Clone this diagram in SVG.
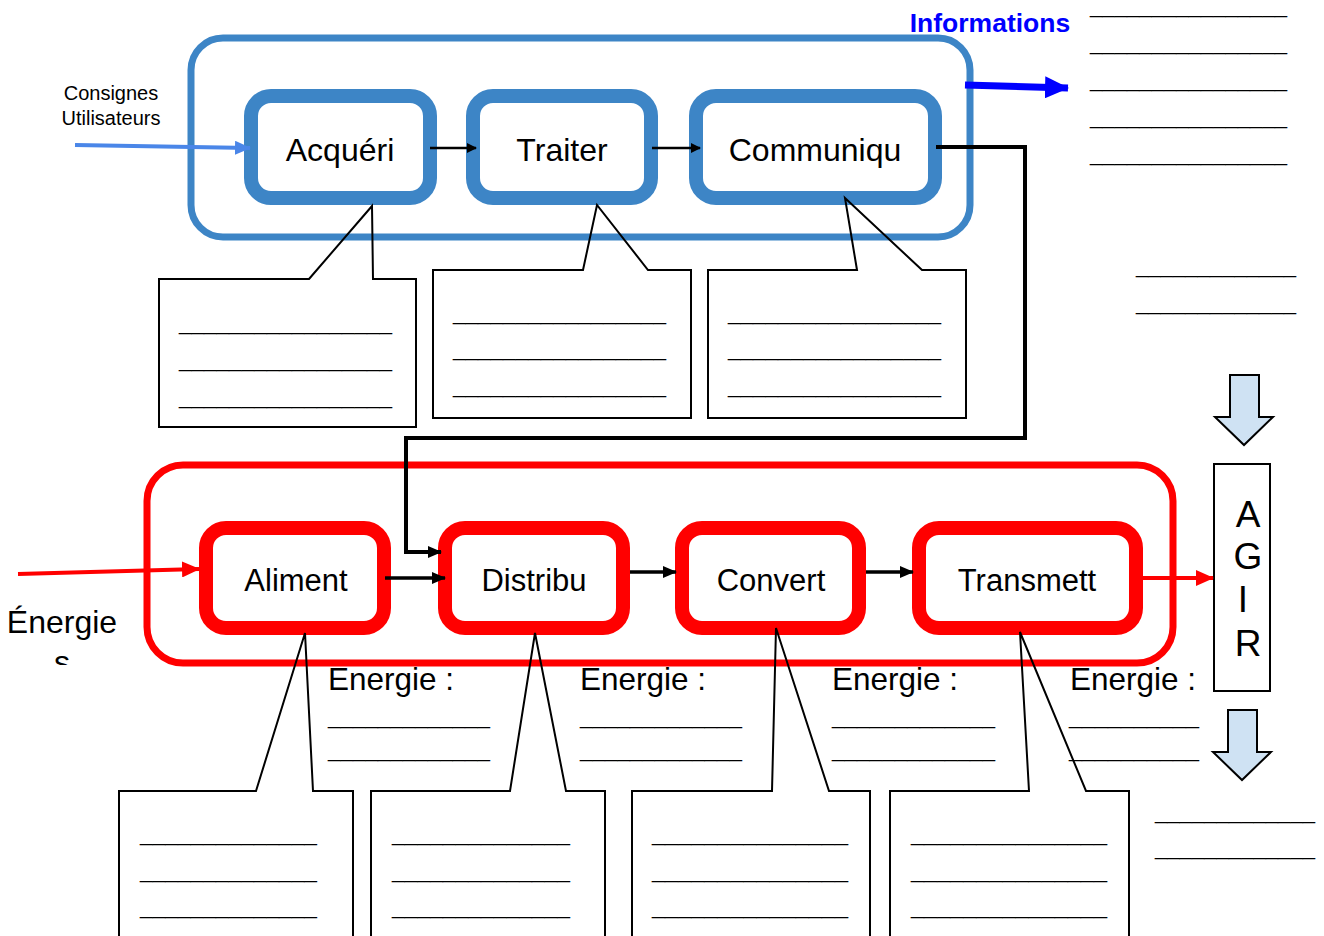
<svg xmlns="http://www.w3.org/2000/svg" width="1324" height="936" viewBox="0 0 1324 936">
<defs>
<marker id="ab" markerWidth="10" markerHeight="10" refX="9" refY="5" orient="auto" markerUnits="userSpaceOnUse"><path d="M0,0 L10,5 L0,10 z" fill="#000"/></marker>
<marker id="abig" markerWidth="14" markerHeight="14" refX="13" refY="7" orient="auto" markerUnits="userSpaceOnUse"><path d="M0,1 L14,7 L0,13 z" fill="#000"/></marker>
<marker id="ar" markerWidth="18" markerHeight="16" refX="17" refY="8" orient="auto" markerUnits="userSpaceOnUse"><path d="M0,0 L18,8 L0,16 z" fill="#ff0000"/></marker>
<marker id="abl" markerWidth="24" markerHeight="22" refX="23" refY="11" orient="auto" markerUnits="userSpaceOnUse"><path d="M0,0 L24,11 L0,22 z" fill="#0000ff"/></marker>
<marker id="alb" markerWidth="16" markerHeight="14" refX="15" refY="7" orient="auto" markerUnits="userSpaceOnUse"><path d="M0,0 L16,7 L0,14 z" fill="#4a86e8"/></marker>
<clipPath id="clipE"><rect x="0" y="590" width="140" height="75"/></clipPath>
</defs>
<style>
.t{font-family:"Liberation Sans",Arial,sans-serif;fill:#000}
.u{font-family:"Liberation Sans",Arial,sans-serif;font-size:16px;fill:#000}
.frameB{fill:none;stroke:#3d85c6;stroke-width:7}
.nodeB{fill:#fff;stroke:#3d85c6;stroke-width:14}
.frameR{fill:none;stroke:#ff0000;stroke-width:7}
.nodeR{fill:#fff;stroke:#ff0000;stroke-width:14}
.call{fill:none;stroke:#000;stroke-width:2}
.conn{fill:none;stroke:#000;stroke-width:2.5}
.darr{fill:#cfe2f3;stroke:#000;stroke-width:2}
</style>
<rect width="1324" height="936" fill="#fff"/>

<g id="frame-info"><rect class="frameB" x="191" y="38" width="779" height="199" rx="32"/></g>
<g id="frame-energy"><rect class="frameR" x="147" y="465" width="1026" height="198" rx="36"/></g>

<g id="acquerir"><rect class="nodeB" x="251" y="96" width="179" height="102" rx="20"/><text class="t" x="340" y="161" font-size="32" text-anchor="middle">Acquéri</text></g>
<g id="traiter"><rect class="nodeB" x="473" y="96" width="178" height="102" rx="20"/><text class="t" x="562" y="161" font-size="32" text-anchor="middle">Traiter</text></g>
<g id="communiquer"><rect class="nodeB" x="696" y="96" width="239" height="102" rx="20"/><text class="t" x="815" y="161" font-size="32" text-anchor="middle">Communiqu</text></g>

<g id="alimenter"><rect class="nodeR" x="206" y="528" width="178" height="100" rx="20"/><text class="t" x="296" y="591" font-size="31" text-anchor="middle">Aliment</text></g>
<g id="distribuer"><rect class="nodeR" x="445" y="528" width="178" height="100" rx="20"/><text class="t" x="534" y="591" font-size="31" text-anchor="middle">Distribu</text></g>
<g id="convertir"><rect class="nodeR" x="682" y="528" width="177" height="100" rx="20"/><text class="t" x="771" y="591" font-size="31" text-anchor="middle">Convert</text></g>
<g id="transmettre"><rect class="nodeR" x="919" y="528" width="217" height="100" rx="20"/><text class="t" x="1027" y="591" font-size="31" text-anchor="middle">Transmett</text></g>

<g id="agir"><rect x="1214" y="464" width="56" height="227" fill="#fff" stroke="#000" stroke-width="2"/>
<text class="t" x="1248" y="527" font-size="37" text-anchor="middle">A</text>
<text class="t" x="1248" y="569" font-size="37" text-anchor="middle">G</text>
<text class="t" x="1243" y="612" font-size="37" text-anchor="middle">I</text>
<text class="t" x="1248" y="656" font-size="37" text-anchor="middle">R</text></g>

<g id="down-arrows">
<path class="darr" d="M1230,375 L1259,375 L1259,417 L1273,417 L1244,445 L1215,417 L1230,417 z"/>
<path class="darr" d="M1228,710 L1257,710 L1257,752 L1271,752 L1242,780 L1213,752 L1228,752 z"/>
</g>

<g id="labels">
<text class="t" x="111" y="100" font-size="20" text-anchor="middle">Consignes</text>
<text class="t" x="111" y="125" font-size="20" text-anchor="middle">Utilisateurs</text>
<text class="t" x="990" y="32" font-size="26.5" font-weight="bold" text-anchor="middle" style="fill:#0000ff">Informations</text>
<g clip-path="url(#clipE)">
<text class="t" x="62" y="633" font-size="32" text-anchor="middle">Énergie</text>
<text class="t" x="62" y="673" font-size="32" text-anchor="middle">s</text>
</g>
<text class="t" x="328" y="690" font-size="31.5">Energie :</text>
<text class="t" x="580" y="690" font-size="31.5">Energie :</text>
<text class="t" x="832" y="690" font-size="31.5">Energie :</text>
<text class="t" x="1070" y="690" font-size="31.5">Energie :</text>
</g>

<g id="blanks">
<text class="u" x="1090" y="14" textLength="197" lengthAdjust="spacingAndGlyphs">________________</text>
<text class="u" x="1090" y="51" textLength="197" lengthAdjust="spacingAndGlyphs">________________</text>
<text class="u" x="1090" y="88" textLength="197" lengthAdjust="spacingAndGlyphs">________________</text>
<text class="u" x="1090" y="125" textLength="197" lengthAdjust="spacingAndGlyphs">________________</text>
<text class="u" x="1090" y="162" textLength="197" lengthAdjust="spacingAndGlyphs">________________</text>
<text class="u" x="1136" y="274" textLength="160" lengthAdjust="spacingAndGlyphs">_____________</text>
<text class="u" x="1136" y="311" textLength="160" lengthAdjust="spacingAndGlyphs">_____________</text>
<text class="u" x="1155" y="820" textLength="160" lengthAdjust="spacingAndGlyphs">_____________</text>
<text class="u" x="1155" y="856" textLength="160" lengthAdjust="spacingAndGlyphs">_____________</text>
<text class="u" x="328" y="725" textLength="162" lengthAdjust="spacingAndGlyphs">_____________</text>
<text class="u" x="328" y="758" textLength="162" lengthAdjust="spacingAndGlyphs">_____________</text>
<text class="u" x="580" y="725" textLength="162" lengthAdjust="spacingAndGlyphs">_____________</text>
<text class="u" x="580" y="758" textLength="162" lengthAdjust="spacingAndGlyphs">_____________</text>
<text class="u" x="832" y="725" textLength="163" lengthAdjust="spacingAndGlyphs">_____________</text>
<text class="u" x="832" y="758" textLength="163" lengthAdjust="spacingAndGlyphs">_____________</text>
<text class="u" x="1069" y="725" textLength="130" lengthAdjust="spacingAndGlyphs">__________</text>
<text class="u" x="1069" y="758" textLength="130" lengthAdjust="spacingAndGlyphs">__________</text>
</g>

<g id="callout-acquerir"><path class="call" d="M309,279 L372,206 L373,279 L416,279 L416,427 L159,427 L159,279 z"/>
<text class="u" x="179" y="331" textLength="213" lengthAdjust="spacingAndGlyphs">_________________</text>
<text class="u" x="179" y="368" textLength="213" lengthAdjust="spacingAndGlyphs">_________________</text>
<text class="u" x="179" y="405" textLength="213" lengthAdjust="spacingAndGlyphs">_________________</text></g>
<g id="callout-traiter"><path class="call" d="M583,270 L597,205 L648,270 L691,270 L691,418 L433,418 L433,270 z"/>
<text class="u" x="453" y="321" textLength="213" lengthAdjust="spacingAndGlyphs">_________________</text>
<text class="u" x="453" y="357" textLength="213" lengthAdjust="spacingAndGlyphs">_________________</text>
<text class="u" x="453" y="394" textLength="213" lengthAdjust="spacingAndGlyphs">_________________</text></g>
<g id="callout-communiquer"><path class="call" d="M857,270 L845,198 L922,270 L966,270 L966,418 L708,418 L708,270 z"/>
<text class="u" x="728" y="321" textLength="213" lengthAdjust="spacingAndGlyphs">_________________</text>
<text class="u" x="728" y="357" textLength="213" lengthAdjust="spacingAndGlyphs">_________________</text>
<text class="u" x="728" y="394" textLength="213" lengthAdjust="spacingAndGlyphs">_________________</text></g>

<g id="callout-alimenter"><path class="call" d="M256,791 L305,633 L313,791 L353,791 L353,940 L119,940 L119,791 z"/>
<text class="u" x="140" y="842" textLength="177" lengthAdjust="spacingAndGlyphs">______________</text>
<text class="u" x="140" y="879" textLength="177" lengthAdjust="spacingAndGlyphs">______________</text>
<text class="u" x="140" y="915" textLength="177" lengthAdjust="spacingAndGlyphs">______________</text></g>
<g id="callout-distribuer"><path class="call" d="M510,791 L535,633 L566,791 L605,791 L605,940 L371,940 L371,791 z"/>
<text class="u" x="392" y="842" textLength="178" lengthAdjust="spacingAndGlyphs">______________</text>
<text class="u" x="392" y="879" textLength="178" lengthAdjust="spacingAndGlyphs">______________</text>
<text class="u" x="392" y="915" textLength="178" lengthAdjust="spacingAndGlyphs">______________</text></g>
<g id="callout-convertir"><path class="call" d="M772,791 L776,628 L829,791 L870,791 L870,940 L632,940 L632,791 z"/>
<text class="u" x="652" y="842" textLength="196" lengthAdjust="spacingAndGlyphs">_______________</text>
<text class="u" x="652" y="879" textLength="196" lengthAdjust="spacingAndGlyphs">_______________</text>
<text class="u" x="652" y="915" textLength="196" lengthAdjust="spacingAndGlyphs">_______________</text></g>
<g id="callout-transmettre"><path class="call" d="M1029,791 L1020,632 L1086,791 L1129,791 L1129,940 L890,940 L890,791 z"/>
<text class="u" x="911" y="842" textLength="196" lengthAdjust="spacingAndGlyphs">_______________</text>
<text class="u" x="911" y="879" textLength="196" lengthAdjust="spacingAndGlyphs">_______________</text>
<text class="u" x="911" y="915" textLength="196" lengthAdjust="spacingAndGlyphs">_______________</text></g>

<g id="connectors">
<path d="M75,145 L250,148" stroke="#4a86e8" stroke-width="4" fill="none" marker-end="url(#alb)"/>
<path d="M430,148 L476,148" class="conn" marker-end="url(#ab)"/>
<path d="M652,148 L700,148" class="conn" marker-end="url(#ab)"/>
<path d="M965,85 L1068,88" stroke="#0000ff" stroke-width="7" fill="none" marker-end="url(#abl)"/>
<path d="M936,147 L1025,147 L1025,438 L406,438 L406,552 L441,552" fill="none" stroke="#000" stroke-width="4" marker-end="url(#abig)"/>
<path d="M18,574 L199,569" stroke="#ff0000" stroke-width="4" fill="none" marker-end="url(#ar)"/>
<path d="M385,578 L445,578" fill="none" stroke="#000" stroke-width="3.5" marker-end="url(#abig)"/>
<path d="M630,572 L676,572" fill="none" stroke="#000" stroke-width="3.5" marker-end="url(#abig)"/>
<path d="M866,572 L913,572" fill="none" stroke="#000" stroke-width="3.5" marker-end="url(#abig)"/>
<path d="M1143,578 L1213,578" stroke="#ff0000" stroke-width="4" fill="none" marker-end="url(#ar)"/>
</g>
</svg>
